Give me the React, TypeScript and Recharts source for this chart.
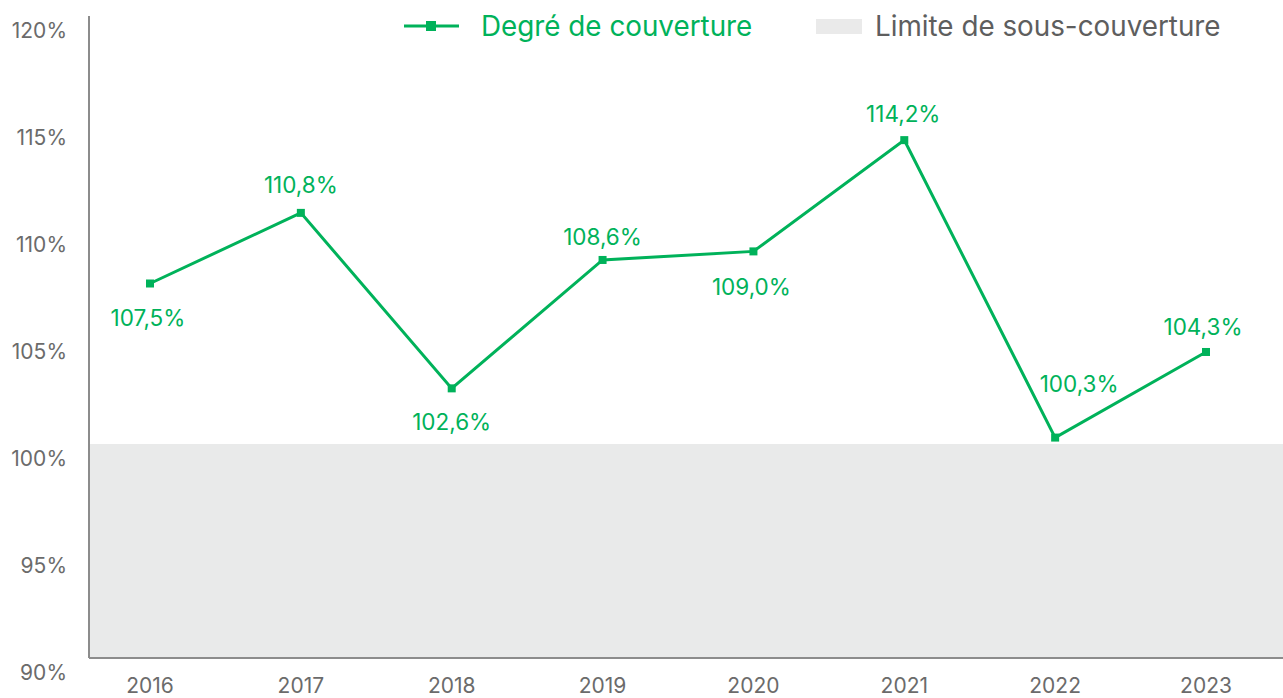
import React from 'react';
import { LineChart, Line, XAxis, YAxis, ReferenceArea } from 'recharts';

const years = ['2016', '2017', '2018', '2019', '2020', '2021', '2022', '2023'];
const coverage = [107.5, 110.8, 102.6, 108.6, 109.0, 114.2, 100.3, 104.3];
const yTicks = [90, 95, 100, 105, 110, 115, 120];
const underLimit = 100;

// where each data label sits relative to its point (dx, dy)
const labelShift = [
  [-2, 34], [0, -28], [0, 33], [0, -23], [-2, 35], [-1, -27], [24, -54], [-3, -25],
];

const GREEN = '#00b25a';
const GREY_TEXT = '#6b6b6b';
const FONT = 'Inter, "Noto Sans", sans-serif';

const data = years.map((y, i) => ({ year: y, value: coverage[i] }));

const fmt = (v: number) => v.toFixed(1).replace('.', ',') + '%';

function YTick(props: any) {
  const { x, y, payload } = props;
  return (
    <text x={x - 22} y={y + 14} textAnchor="end" dominantBaseline="central"
      fontSize={21} fill={GREY_TEXT} fontFamily={FONT}>
      {payload.value}%
    </text>
  );
}

function XTick(props: any) {
  const { x, y, payload } = props;
  return (
    <text x={x} y={y + 27} textAnchor="middle" dominantBaseline="central"
      fontSize={21} fill={GREY_TEXT} fontFamily={FONT}>
      {payload.value}
    </text>
  );
}

function SquareDot(props: any) {
  const { cx, cy } = props;
  return <rect x={cx - 4} y={cy - 4} width={8} height={8} fill={GREEN} />;
}

function ValueLabel(props: any) {
  const { x, y, index, value } = props;
  const [dx, dy] = labelShift[index] || [0, -25];
  return (
    <text x={x + dx} y={y + dy} textAnchor="middle" dominantBaseline="central"
      fontSize={22.5} fill={GREEN} fontFamily={FONT}>
      {fmt(value)}
    </text>
  );
}

export default function App() {
  return (
    <div style={{ position: 'absolute', left: 0, top: 0, width: 1283, height: 698, background: '#fff' }}>
      <LineChart width={1283} height={698} data={data}
        margin={{ top: 16, right: 0, bottom: 0, left: 0 }}>
        <XAxis xAxisId="full" dataKey="year" hide />
        <ReferenceArea xAxisId="full" y1={90} y2={underLimit} fill="#e9eaea" fillOpacity={1} stroke="none" />
        <XAxis dataKey="year" height={40} padding={{ left: 61, right: 77 }} tickSize={0} tickMargin={0}
          axisLine={{ stroke: '#8c8c8c', strokeWidth: 2 }} tickLine={false} tick={<XTick />} interval={0} />
        <YAxis domain={[90, 120]} ticks={yTicks} width={89} tickSize={0} tickMargin={0}
          axisLine={{ stroke: '#8c8c8c', strokeWidth: 2 }} tickLine={false} tick={<YTick />} interval={0} />
        <Line type="linear" dataKey="value" stroke={GREEN} strokeWidth={3}
          dot={<SquareDot />} activeDot={false} isAnimationActive={false}
          label={<ValueLabel />} />
      </LineChart>
      <div style={{ position: 'absolute', left: 404, top: 8, height: 36, display: 'flex', alignItems: 'center', fontFamily: FONT, fontSize: 27.8 }}>
        <svg width={55} height={12} style={{ marginRight: 22 }}>
          <line x1={0} y1={6} x2={55} y2={6} stroke={GREEN} strokeWidth={3} />
          <rect x={22} y={1} width={10} height={10} fill={GREEN} />
        </svg>
        <span style={{ color: GREEN }}>Degré de couverture</span>
      </div>
      <div style={{ position: 'absolute', left: 816, top: 8, height: 36, display: 'flex', alignItems: 'center', fontFamily: FONT, fontSize: 27.8 }}>
        <span style={{ display: 'inline-block', width: 46, height: 15, background: '#eaeaea', marginRight: 13 }} />
        <span style={{ color: '#5e5e5e' }}>Limite de sous-couverture</span>
      </div>
    </div>
  );
}
